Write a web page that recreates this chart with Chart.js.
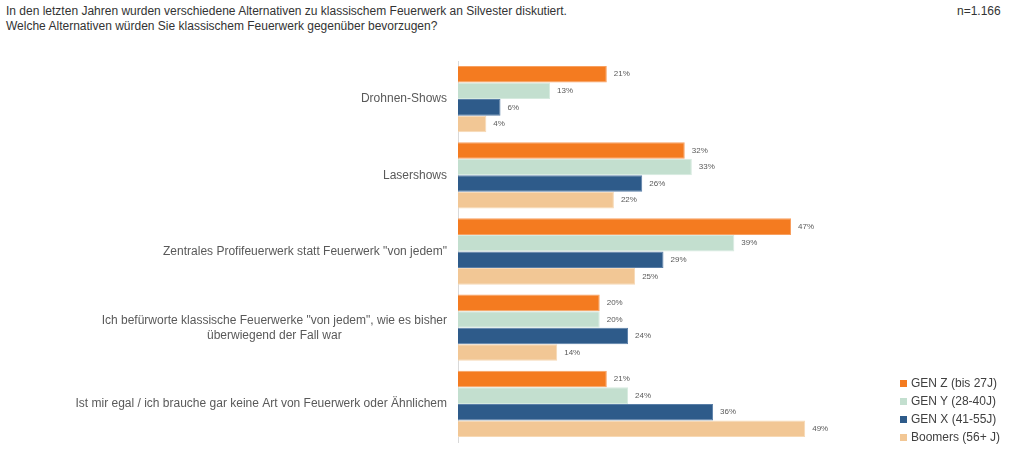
<!DOCTYPE html>
<html>
<head>
<meta charset="utf-8">
<script src="https://cdn.jsdelivr.net/npm/chart.js@4.4.1/dist/chart.umd.min.js"></script>
<style>
  html, body { margin:0; padding:0; background:#fff; }
  body { width:1024px; height:457px; position:relative; overflow:hidden; font-family:"Liberation Sans", Arial, sans-serif; }
  #title { position:absolute; left:6px; top:4px; font-size:12px; line-height:15px; color:#333; }
  #n { position:absolute; left:957px; top:4px; font-size:12px; color:#333; }
  #wrap { position:absolute; left:0; top:0; width:1024px; height:457px; }
  #legend { position:absolute; left:900px; top:374px; font-size:12px; color:#404040; }
  #legend div { height:18px; line-height:18px; white-space:nowrap; }
  #legend span { display:inline-block; width:7px; height:7px; margin-right:4px; vertical-align:0px; }
</style>
</head>
<body>
<div id="title">In den letzten Jahren wurden verschiedene Alternativen zu klassischem Feuerwerk an Silvester diskutiert.<br>Welche Alternativen würden Sie klassischem Feuerwerk gegenüber bevorzugen?</div>
<div id="n">n=1.166</div>
<div id="wrap"><canvas id="chart"></canvas></div>
<div id="legend"></div>
<script>
const categories = [
  ["Drohnen-Shows"],
  ["Lasershows"],
  ["Zentrales Profifeuerwerk statt Feuerwerk \"von jedem\""],
  ["Ich befürworte klassische Feuerwerke \"von jedem\", wie es bisher", "überwiegend der Fall war"],
  ["Ist mir egal / ich brauche gar keine Art von Feuerwerk oder Ähnlichem"]
];
const seriesNames = ["GEN Z (bis 27J)", "GEN Y (28-40J)", "GEN X (41-55J)", "Boomers (56+ J)"];
const genZ    = [21, 32, 47, 20, 21];
const genY    = [13, 33, 39, 20, 24];
const genX    = [6, 26, 29, 24, 36];
const boomers = [4, 22, 25, 14, 49];
const colors = ["#F47B20", "#C3DFCF", "#2E5B8A", "#F2C795"];
const borders = ["#F8A060", "#D6EADF", "#5A7FA8", "#F7D9B5"];

const legend = document.getElementById("legend");
seriesNames.forEach((s, i) => {
  legend.innerHTML += `<div><span style="background:${colors[i]}"></span>${s}</div>`;
});

const valueLabels = {
  id: "valueLabels",
  afterDatasetsDraw(chart){
    const ctx = chart.ctx;
    ctx.save();
    ctx.font = "8px 'Liberation Sans', Arial, sans-serif";
    ctx.fillStyle = "#595959";
    ctx.textBaseline = "middle";
    ctx.textAlign = "left";
    chart.data.datasets.forEach((ds, i) => {
      chart.getDatasetMeta(i).data.forEach((bar, j) => {
        ctx.fillText(ds.data[j] + "%", bar.x + 7, bar.y);
      });
    });
    ctx.restore();
  }
};

const catLabels = {
  id: "catLabels",
  afterDraw(chart){
    const ctx = chart.ctx;
    const y = chart.scales.y;
    ctx.save();
    ctx.font = "12px 'Liberation Sans', Arial, sans-serif";
    ctx.fillStyle = "#595959";
    ctx.textBaseline = "middle";
    ctx.textAlign = "center";
    const right = 447, lh = 15;
    categories.forEach((lines, i) => {
      const cy = y.getPixelForValue(i);
      const w = Math.max(...lines.map(l => ctx.measureText(l).width));
      const cx = right - w / 2;
      lines.forEach((l, k) => {
        ctx.fillText(l, cx, cy + (k - (lines.length - 1) / 2) * lh);
      });
    });
    ctx.restore();
  }
};

new Chart(document.getElementById("chart"), {
  type: "bar",
  data: {
    labels: categories.map(c => c.join(" ")),
    datasets: [genZ, genY, genX, boomers].map((d, i) => ({
      label: seriesNames[i],
      data: d,
      backgroundColor: colors[i],
      borderColor: borders[i],
      borderWidth: 1,
      categoryPercentage: 0.87,
      barPercentage: 1
    }))
  },
  options: {
    indexAxis: "y",
    responsive: true,
    maintainAspectRatio: false,
    animation: false,
    layout: { padding: { top: 61, bottom: 15, left: 0, right: 70 } },
    plugins: { legend: { display: false }, tooltip: { enabled: false } },
    scales: {
      x: { display: false, min: 0, max: 70 },
      y: {
        ticks: { display: false },
        grid: { display: true, drawOnChartArea: false, drawTicks: false },
        border: { display: true, color: "#D9D9D9", width: 1 },
        afterFit(scale){ scale.width = 458; }
      }
    }
  },
  plugins: [valueLabels, catLabels]
});
</script>
</body>
</html>
